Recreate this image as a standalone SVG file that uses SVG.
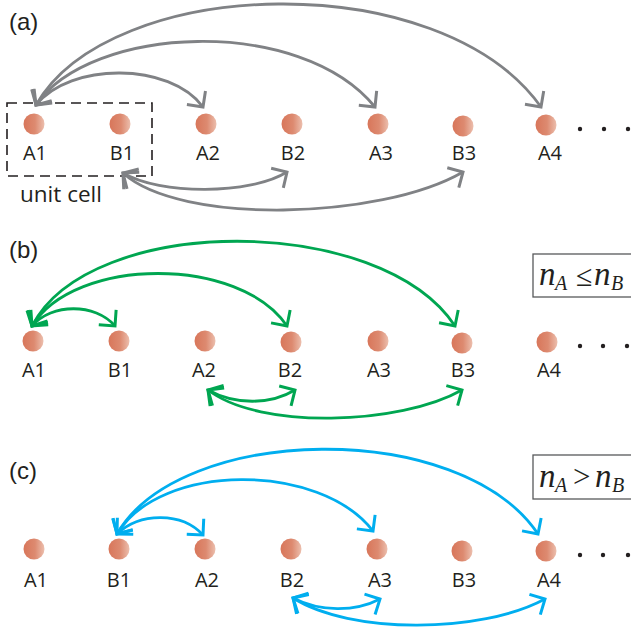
<svg xmlns="http://www.w3.org/2000/svg" width="631" height="633" viewBox="0 0 631 633">
<style>
.lbl{font-family:"Open Sans","Noto Sans",sans-serif;font-size:20px;fill:#231f20;text-anchor:middle}
.pl{font-family:"Liberation Sans",Arial,sans-serif;font-size:24px;fill:#231f20}
.uc{font-family:"Open Sans","Noto Sans",sans-serif;font-size:22.5px;fill:#231f20}
.m{font-family:"Liberation Serif","Times New Roman",serif;fill:#231f20}
.gr{fill:none;stroke:#808285;stroke-width:2.8;marker-start:url(#mg);marker-end:url(#mg)}
.gn{fill:none;stroke:#00a651;stroke-width:2.8;marker-start:url(#mn);marker-end:url(#mn)}
.bl{fill:none;stroke:#00aeef;stroke-width:2.8;marker-start:url(#mb);marker-end:url(#mb)}
.dot{fill:#231f20}
.box{fill:#fff;stroke:#58595b;stroke-width:1.3}
</style>
<defs>
<linearGradient id="ng" x1="0" y1="0" x2="1" y2="0">
<stop offset="0" stop-color="#d8765a"/>
<stop offset="0.55" stop-color="#dd8a70"/>
<stop offset="1" stop-color="#ecbfae"/>
</linearGradient>
<marker id="mg" markerUnits="userSpaceOnUse" viewBox="-16 -16 22 32" refX="0" refY="0" markerWidth="22" markerHeight="32" orient="auto-start-reverse"><path d="M-11.5,-11.5 L0,0 L-11.5,11.5" fill="none" stroke="#808285" stroke-width="3"/></marker>
<marker id="mn" markerUnits="userSpaceOnUse" viewBox="-16 -16 22 32" refX="0" refY="0" markerWidth="22" markerHeight="32" orient="auto-start-reverse"><path d="M-11.5,-11.5 L0,0 L-11.5,11.5" fill="none" stroke="#00a651" stroke-width="3"/></marker>
<marker id="mb" markerUnits="userSpaceOnUse" viewBox="-16 -16 22 32" refX="0" refY="0" markerWidth="22" markerHeight="32" orient="auto-start-reverse"><path d="M-11.5,-11.5 L0,0 L-11.5,11.5" fill="none" stroke="#00aeef" stroke-width="3"/></marker>
</defs>
<rect width="631" height="633" fill="#fff"/>

<!-- Panel labels -->
<text class="pl" x="9" y="30">(a)</text>
<text class="pl" x="9" y="258">(b)</text>
<text class="pl" x="9" y="479">(c)</text>

<!-- Panel (a) -->
<g id="unit-cell">
<rect x="7" y="103" width="145" height="73" fill="none" stroke="#231f20" stroke-width="1.6" stroke-dasharray="10 6"/>
<text class="uc" x="20" y="202">unit cell</text>
</g>
<g id="a-A1"><circle cx="34" cy="124" r="10.5" fill="url(#ng)"/><text class="lbl" x="35" y="160">A1</text></g>
<g id="a-B1"><circle cx="120" cy="124" r="10.5" fill="url(#ng)"/><text class="lbl" x="122" y="160">B1</text></g>
<g id="a-A2"><circle cx="206" cy="124" r="10.5" fill="url(#ng)"/><text class="lbl" x="208" y="160">A2</text></g>
<g id="a-B2"><circle cx="292" cy="124" r="10.5" fill="url(#ng)"/><text class="lbl" x="293" y="160">B2</text></g>
<g id="a-A3"><circle cx="378" cy="124" r="10.5" fill="url(#ng)"/><text class="lbl" x="381" y="160">A3</text></g>
<g id="a-B3"><circle cx="463" cy="126" r="10.5" fill="url(#ng)"/><text class="lbl" x="464" y="160">B3</text></g>
<g id="a-A4"><circle cx="546" cy="125" r="10.5" fill="url(#ng)"/><text class="lbl" x="550" y="160">A4</text></g>
<g id="a-dots"><circle class="dot" cx="580" cy="129" r="2.2"/><circle class="dot" cx="604" cy="129" r="2.2"/><circle class="dot" cx="628" cy="129" r="2.2"/></g>

<!-- Panel (b) -->
<g id="b-box">
<rect class="box" x="533" y="254" width="110" height="43"/>
<text class="m" y="285"><tspan x="539" font-style="italic" font-size="33">n</tspan><tspan x="555" y="290" font-style="italic" font-size="20">A</tspan><tspan x="576" y="286" font-size="30">≤</tspan><tspan x="594" y="285" font-style="italic" font-size="33">n</tspan><tspan x="611" y="290" font-style="italic" font-size="20">B</tspan></text>
</g>
<g id="b-A1"><circle cx="33" cy="341" r="10.5" fill="url(#ng)"/><text class="lbl" x="34" y="377">A1</text></g>
<g id="b-B1"><circle cx="119" cy="341" r="10.5" fill="url(#ng)"/><text class="lbl" x="120" y="377">B1</text></g>
<g id="b-A2"><circle cx="205" cy="341" r="10.5" fill="url(#ng)"/><text class="lbl" x="204" y="377">A2</text></g>
<g id="b-B2"><circle cx="291" cy="342" r="10.5" fill="url(#ng)"/><text class="lbl" x="290" y="377">B2</text></g>
<g id="b-A3"><circle cx="378" cy="341" r="10.5" fill="url(#ng)"/><text class="lbl" x="379" y="377">A3</text></g>
<g id="b-B3"><circle cx="462" cy="343" r="10.5" fill="url(#ng)"/><text class="lbl" x="463" y="377">B3</text></g>
<g id="b-A4"><circle cx="547" cy="342" r="10.5" fill="url(#ng)"/><text class="lbl" x="549" y="377">A4</text></g>
<g id="b-dots"><circle class="dot" cx="580" cy="346" r="2.2"/><circle class="dot" cx="603" cy="346" r="2.2"/><circle class="dot" cx="627" cy="346" r="2.2"/></g>

<!-- Panel (c) -->
<g id="c-box">
<rect class="box" x="533" y="455" width="110" height="44"/>
<text class="m" y="487"><tspan x="539" font-style="italic" font-size="33">n</tspan><tspan x="555" y="492" font-style="italic" font-size="20">A</tspan><tspan x="573" y="487" font-size="31">&gt;</tspan><tspan x="595" font-style="italic" font-size="33">n</tspan><tspan x="612" y="492" font-style="italic" font-size="20">B</tspan></text>
</g>
<g id="c-A1"><circle cx="34" cy="549" r="10.5" fill="url(#ng)"/><text class="lbl" x="36" y="587">A1</text></g>
<g id="c-B1"><circle cx="119" cy="549" r="10.5" fill="url(#ng)"/><text class="lbl" x="119" y="587">B1</text></g>
<g id="c-A2"><circle cx="205" cy="549" r="10.5" fill="url(#ng)"/><text class="lbl" x="207" y="587">A2</text></g>
<g id="c-B2"><circle cx="291" cy="549" r="10.5" fill="url(#ng)"/><text class="lbl" x="292" y="587">B2</text></g>
<g id="c-A3"><circle cx="377" cy="549" r="10.5" fill="url(#ng)"/><text class="lbl" x="380" y="587">A3</text></g>
<g id="c-B3"><circle cx="462" cy="551" r="10.5" fill="url(#ng)"/><text class="lbl" x="464" y="587">B3</text></g>
<g id="c-A4"><circle cx="546" cy="551" r="10.5" fill="url(#ng)"/><text class="lbl" x="549" y="587">A4</text></g>
<g id="c-dots"><circle class="dot" cx="580" cy="555" r="2.2"/><circle class="dot" cx="603" cy="555" r="2.2"/><circle class="dot" cx="628" cy="555" r="2.2"/></g>

<!-- Connectors -->
<g id="connectors">
<path class="gr" d="M36,105 C70,62 170,62 203,107"/>
<path class="gr" d="M36,105 C90,25 300,15 375,107"/>
<path class="gr" d="M36,105 C110,-25 440,-35 541,107"/>
<path class="gr" d="M123,173 C160,195 250,195 287,172"/>
<path class="gr" d="M123,173 C180,225 380,220 463,172"/>

<path class="gn" d="M32,326 C52,303 95,303 115,326"/>
<path class="gn" d="M32,326 C75,256 240,256 287,326"/>
<path class="gn" d="M32,326 C90,213 380,213 455,326"/>
<path class="gn" d="M208,390 C235,405 270,405 295,390"/>
<path class="gn" d="M208,390 C260,430 400,425 462,390"/>

<path class="bl" d="M117,534 C140,512 182,512 203,535"/>
<path class="bl" d="M117,534 C160,462 320,462 373,531"/>
<path class="bl" d="M117,534 C180,424 460,418 538,534"/>
<path class="bl" d="M293,598 C320,612 355,612 380,599"/>
<path class="bl" d="M293,598 C350,634 480,634 545,599"/>
</g>
</svg>
